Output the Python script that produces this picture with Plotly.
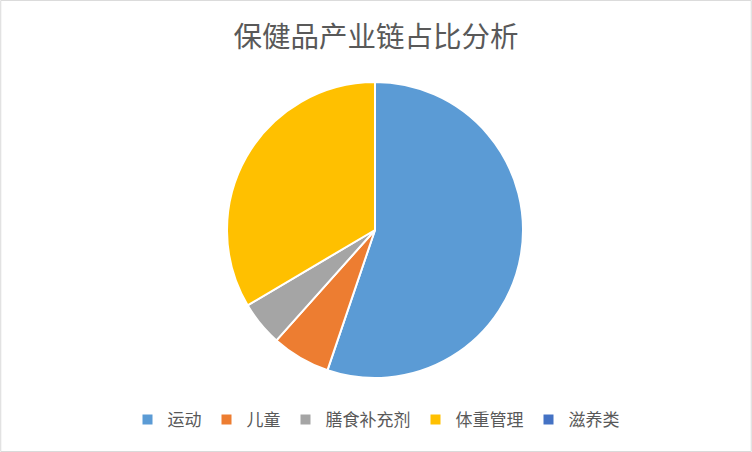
import plotly.graph_objects as go

# Share of each segment in the health-products chain
labels = ["运动", "儿童", "膳食补充剂", "体重管理", "滋养类"]
shares = [55.2, 6.4, 4.9, 33.5, 0]
colors = ["#5B9BD5", "#ED7D31", "#A5A5A5", "#FFC000", "#4472C4"]

font = "Noto Sans CJK SC, Microsoft YaHei, sans-serif"

fig = go.Figure(
    go.Pie(
        labels=labels,
        values=shares,
        sort=False,
        direction="clockwise",
        rotation=0,
        textinfo="none",
        hoverinfo="label+percent",
        marker=dict(colors=colors, line=dict(color="white", width=2)),
        domain=dict(x=[227 / 752, 523 / 752], y=[1 - 378 / 452, 1 - 82 / 452]),
    )
)

fig.update_layout(
    width=752,
    height=452,
    margin=dict(l=0, r=0, t=0, b=0),
    paper_bgcolor="white",
    font=dict(family=font, color="#595959"),
    title=dict(
        text="保健品产业链占比分析",
        x=0.5,
        xanchor="center",
        y=1 - 37 / 452,
        yanchor="middle",
        font=dict(size=28.5, color="#595959", family=font),
    ),
    legend=dict(
        orientation="h",
        x=0.5,
        xanchor="center",
        y=1 - 420 / 452,
        yanchor="middle",
        font=dict(size=17, color="#595959"),
        itemwidth=30,
        tracegroupgap=0,
    ),
    shapes=[
        dict(
            type="rect", xref="paper", yref="paper", x0=0.001, x1=0.999, y0=0.001, y1=0.999,
            line=dict(color="#D9D9D9", width=1),
        )
    ],
)

# drop the default page margin so the chart fills the window
fig.write_html(
    "out.html",
    config={"displayModeBar": False},
    post_script="document.body.style.margin='0';",
)
